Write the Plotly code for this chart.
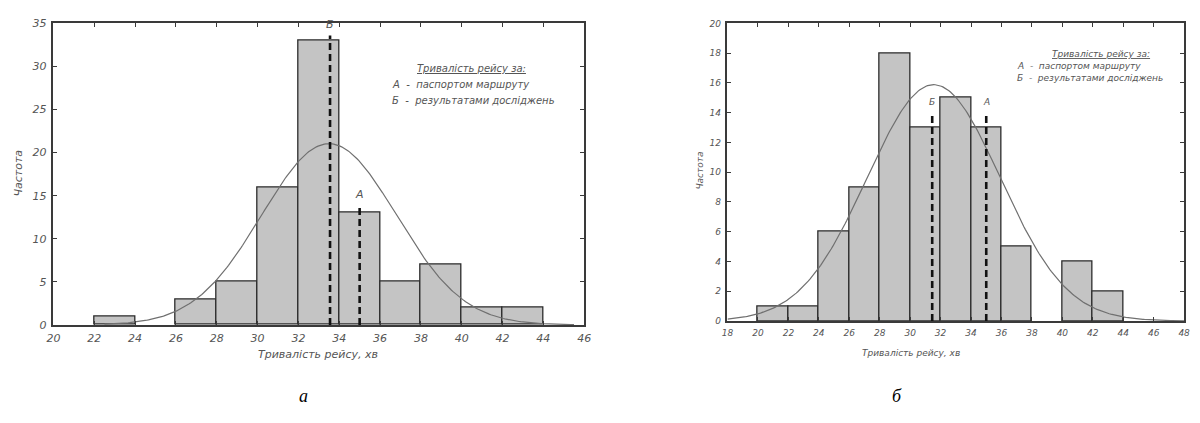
import numpy as np
import plotly.graph_objects as go

# ---- data: chart "а" ----
a_bin_left = [22, 24, 26, 28, 30, 32, 34, 36, 38, 40, 42]
a_counts = [1, 0, 3, 5, 16, 33, 13, 5, 7, 2, 2]
a_bin_width = 2
a_curve_mean = 33.5
a_curve_sd = 3.3
a_curve_range = [22.5, 45.5]
a_line_B = 33.55
a_line_B_top = 33.6
a_line_A = 35.0
a_line_A_top = 13.8
a_xticks = list(range(20, 47, 2))
a_yticks = [0, 5, 10, 15, 20, 25, 30, 35]

# ---- data: chart "б" ----
b_bin_left = [20, 22, 24, 26, 28, 30, 32, 34, 36, 38, 40, 42]
b_counts = [1, 1, 6, 9, 18, 13, 15, 13, 5, 0, 4, 2]
b_bin_width = 2
b_curve_mean = 31.55
b_curve_sd = 4.37
b_curve_range = [18, 48]
b_line_B = 31.45
b_line_B_top = 13.8
b_line_A = 35.0
b_line_A_top = 13.8
b_xticks = list(range(18, 49, 2))
b_yticks = list(range(0, 21, 2))

x_title = "Тривалість рейсу, хв"
y_title = "Частота"
legend_title = "Тривалість рейсу за:"
legend_A = "А  -  паспортом маршруту"
legend_B = "Б  -  результатами досліджень"

FONT = "DejaVu Sans"
FRAME = "#3a3a3a"
TXT = "#555555"

fig = go.Figure()


def add_chart(bin_left, counts, width, mean, sd, crange, lB, lBtop, lA, lAtop, xa, ya):
    n = sum(counts)
    centers = [b + width / 2 for b in bin_left]
    fig.add_trace(go.Bar(
        x=centers, y=counts, width=[width] * len(counts),
        marker=dict(color="#c4c4c4",
                    line=dict(color="#2b2b2b", width=[1.3 if c > 0 else 0 for c in counts])),
        xaxis=xa, yaxis=ya, showlegend=False, hoverinfo="x+y"))
    xs = np.linspace(crange[0], crange[1], 300)
    ys = n * width / (sd * np.sqrt(2 * np.pi)) * np.exp(-((xs - mean) ** 2) / (2 * sd ** 2))
    fig.add_trace(go.Scatter(x=xs, y=ys, mode="lines",
                             line=dict(color="#707070", width=1.2),
                             xaxis=xa, yaxis=ya, showlegend=False, hoverinfo="skip"))
    for xv, top in [(lB, lBtop), (lA, lAtop)]:
        fig.add_trace(go.Scatter(x=[xv, xv], y=[0, top], mode="lines",
                                 line=dict(color="#111111", width=2.6, dash="7px,4px"),
                                 xaxis=xa, yaxis=ya, showlegend=False, hoverinfo="skip"))


add_chart(a_bin_left, a_counts, a_bin_width, a_curve_mean, a_curve_sd, a_curve_range,
          a_line_B, a_line_B_top, a_line_A, a_line_A_top, "x", "y")
add_chart(b_bin_left, b_counts, b_bin_width, b_curve_mean, b_curve_sd, b_curve_range,
          b_line_B, b_line_B_top, b_line_A, b_line_A_top, "x2", "y2")


def axis_style(domain, rng, ticks, size, anchor):
    return dict(domain=domain, range=rng, tickvals=ticks, ticktext=[str(t) for t in ticks],
                showgrid=False, zeroline=False, showline=True, linecolor=FRAME, linewidth=1.5,
                mirror="ticks", ticks="inside", ticklen=4, tickcolor=FRAME, tickwidth=1,
                tickfont=dict(family=FONT, size=size, color=TXT, style="italic"),
                anchor=anchor)


fig.update_layout(
    width=1200, height=423,
    margin=dict(l=0, r=0, t=0, b=0),
    paper_bgcolor="white", plot_bgcolor="white",
    bargap=0,
    xaxis=axis_style([47 / 1200, 584 / 1200], [20, 46], a_xticks, 11, "y"),
    yaxis=axis_style([1 - 329 / 423, 1 - 18 / 423], [0, 35], a_yticks, 11, "x"),
    xaxis2=axis_style([729 / 1200, 1191 / 1200], [18, 48], b_xticks, 9, "y2"),
    yaxis2=axis_style([1 - 325 / 423, 1 - 18 / 423], [0, 20], b_yticks, 9, "x2"),
)
fig.update_xaxes(ticklabelstandoff=2)
fig.update_yaxes(ticklabelstandoff=3)

anns = []
def txt(x, y, s, size, xanchor="center", xref="paper", yref="paper", angle=0, family=FONT,
        color=TXT, italic=True):
    anns.append(dict(x=x, y=y, xref=xref, yref=yref, text=s, showarrow=False,
                     xanchor=xanchor, yanchor="middle", textangle=angle,
                     font=dict(family=family, size=size, color=color,
                               style="italic" if italic else "normal")))

# axis titles
txt(315 / 1200, 1 - 360 / 423, x_title, 11)
txt(12 / 1200, 1 - 172 / 423, y_title, 11, angle=-90)
txt(915 / 1200, 1 - 358 / 423, x_title, 9)
txt(701 / 1200, 1 - 170 / 423, y_title, 9, angle=-90)

# legend texts
txt(470 / 1200, 1 - 64 / 423, "<u>" + legend_title + "</u>", 10)
txt(388 / 1200, 1 - 81 / 423, legend_A, 10, xanchor="left")
txt(388 / 1200, 1 - 97 / 423, legend_B, 10, xanchor="left")
txt(1107 / 1200, 1 - 50 / 423, "<u>" + legend_title + "</u>", 9)
txt(1020 / 1200, 1 - 62 / 423, legend_A, 9, xanchor="left")
txt(1020 / 1200, 1 - 74 / 423, legend_B, 9, xanchor="left")

# line labels
txt(a_line_B, a_line_B_top + 1.3, "Б", 11, xref="x", yref="y")
txt(a_line_A, a_line_A_top + 1.3, "А", 11, xref="x", yref="y")
txt(b_line_B, b_line_B_top + 0.9, "Б", 9, xref="x2", yref="y2")
txt(b_line_A, b_line_A_top + 0.9, "А", 9, xref="x2", yref="y2")

# captions
txt(300 / 1200, 1 - 402 / 423, "а", 18, family="Liberation Serif", color="#000000")
txt(900 / 1200, 1 - 402 / 423, "б", 18, family="Liberation Serif", color="#000000")

fig.update_layout(annotations=anns)
fig.write_html("out.html", config={"displayModeBar": False},
               post_script="document.body.style.margin='0';document.body.style.overflow='hidden';")
